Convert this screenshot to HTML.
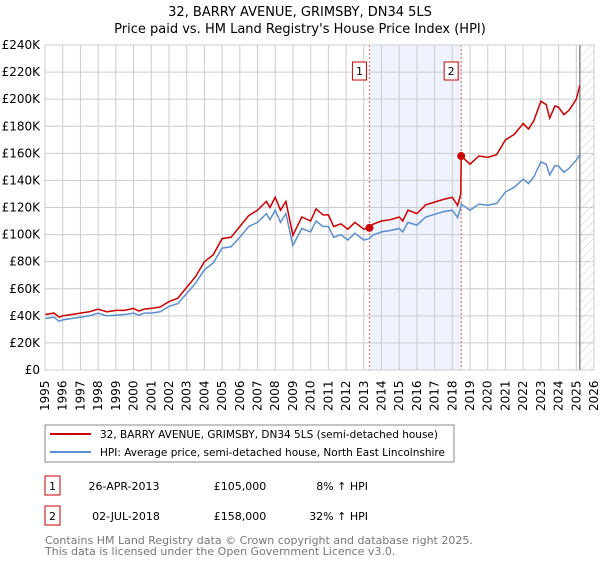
<!DOCTYPE html>
<html><head><meta charset="utf-8"><style>
body{margin:0;background:#fff;font-family:"DejaVu Sans","Liberation Sans",sans-serif;}
svg text{font-family:"DejaVu Sans","Liberation Sans",sans-serif;}
</style></head><body>
<svg id="c" width="600" height="560">
<defs><pattern id="hatch" patternUnits="userSpaceOnUse" width="6" height="6" patternTransform="rotate(45)"><line x1="0" y1="0" x2="0" y2="6" stroke="#ccc" stroke-width="1"/></pattern></defs>
<text x="300" y="16" text-anchor="middle" font-size="13">32, BARRY AVENUE, GRIMSBY, DN34 5LS</text>
<text x="300" y="33" text-anchor="middle" font-size="13">Price paid vs. HM Land Registry's House Price Index (HPI)</text>
<g id="plot"></g>
<g>
<rect x="45" y="425" width="409" height="37" fill="#fff" stroke="#888"/>
<line x1="50" y1="434" x2="91" y2="434" stroke="#cc0000" stroke-width="2"/>
<text x="100" y="438" font-size="10.5" textLength="338" lengthAdjust="spacingAndGlyphs">32, BARRY AVENUE, GRIMSBY, DN34 5LS (semi-detached house)</text>
<line x1="50" y1="452" x2="91" y2="452" stroke="#5b8fd0" stroke-width="2"/>
<text x="100" y="456" font-size="10.5" textLength="345" lengthAdjust="spacingAndGlyphs">HPI: Average price, semi-detached house, North East Lincolnshire</text>
</g>
<g>
<rect x="45" y="476" width="15" height="19" fill="#fff" stroke="#cc0000"/>
<text x="52.5" y="490" text-anchor="middle" font-size="11">1</text>
<text x="124" y="490" text-anchor="middle" font-size="11">26-APR-2013</text>
<text x="240" y="490" text-anchor="middle" font-size="11">£105,000</text>
<text x="368" y="490" text-anchor="end" font-size="11">8% ↑ HPI</text>
</g>
<g>
<rect x="45" y="506" width="15" height="19" fill="#fff" stroke="#cc0000"/>
<text x="52.5" y="520" text-anchor="middle" font-size="11">2</text>
<text x="126" y="520" text-anchor="middle" font-size="11">02-JUL-2018</text>
<text x="240" y="520" text-anchor="middle" font-size="11">£158,000</text>
<text x="368" y="520" text-anchor="end" font-size="11">32% ↑ HPI</text>
</g>
<text x="45" y="544" font-size="11" fill="#777">Contains HM Land Registry data © Crown copyright and database right 2025.</text>
<text x="45" y="555" font-size="11" fill="#777">This data is licensed under the Open Government Licence v3.0.</text>
</svg>
<script>
const dates=[1995.0,1995.5,1995.8,1996.0,1996.5,1997.0,1997.5,1998.0,1998.5,1999.0,1999.5,2000.0,2000.3,2000.6,2001.0,2001.5,2002.0,2002.5,2003.0,2003.5,2004.0,2004.5,2005.0,2005.5,2006.0,2006.5,2007.0,2007.5,2007.7,2008.0,2008.3,2008.6,2009.0,2009.5,2010.0,2010.3,2010.7,2011.0,2011.3,2011.7,2012.1,2012.5,2013.0,2013.32,2013.5,2014.0,2014.5,2015.0,2015.2,2015.5,2016.0,2016.5,2017.0,2017.5,2018.0,2018.3,2018.48,2018.5,2019.0,2019.5,2020.0,2020.5,2021.0,2021.5,2022.0,2022.3,2022.6,2023.0,2023.3,2023.5,2023.8,2024.0,2024.3,2024.6,2025.0,2025.2];
const hpi=[38,39,36,37,38,39,40,42,40,40.5,41,42,40.5,42,42,43,47,49,56.5,64,74,79,90,91,98,106,109,115.5,111,118,109,115.5,92,104.5,102,110,106,106,98,100,96,101,96,97,99.6,102,103,104.5,102,109,107,113,115,117,118,112.6,120,122.5,118,122.5,121.7,123,131.5,135,141,137.7,142.6,153.7,152,144,151,150.5,146,149,155,159];
const price=[41,42,39,40,41,42,43,45,43,44,44,45.5,43.5,45,45.5,46.5,50.5,53,61,69,80,85,97,98,106,114,118,124.5,120,127.5,118,124.5,99.5,113,110,119,114.5,114.5,106,108,104,109,104,105,107.5,110,111,113,110,118,115.5,122,124,126,127.5,121.5,130,158,152,158,157,159,170,174,182,178,184,198.5,196,186,195,194,188.5,192,200,210];
const yTicks=[0,20,40,60,80,100,120,140,160,180,200,220,240];
const years=[1995,1996,1997,1998,1999,2000,2001,2002,2003,2004,2005,2006,2007,2008,2009,2010,2011,2012,2013,2014,2015,2016,2017,2018,2019,2020,2021,2022,2023,2024,2025,2026];
const sales=[[2013.32,105,"1"],[2018.5,158,"2"]];
const L=45,R=594,T=45,B=370,NS="http://www.w3.org/2000/svg";
const X=d=>L+(d-1995)/31*(R-L), Y=v=>B-v/240*(B-T);
const g=document.getElementById('plot');
function el(t,a,p){const e=document.createElementNS(NS,t);for(const k in a)e.setAttribute(k,a[k]);(p||g).appendChild(e);return e;}
let e;
e=el('rect',{x:X(sales[0][0]),y:T,width:X(sales[1][0])-X(sales[0][0]),height:B-T,fill:'#eef3fd'});


e=el('rect',{x:X(2025.2),y:T,width:R-X(2025.2),height:B-T,fill:'url(#hatch)'});


years.forEach(y=>{e=el('line',{x1:X(y),x2:X(y),y1:T,y2:B,stroke:'#ccc'});


const t=el('text',{x:0,y:0,'font-size':12,transform:`translate(${X(y)+4},${B+41}) rotate(-90)`});t.textContent=y;

});
yTicks.forEach(v=>{e=el('line',{x1:L,x2:R,y1:Y(v),y2:Y(v),stroke:'#ccc'});


const t=el('text',{x:L-5,y:Y(v)+4,'text-anchor':'end','font-size':12});t.textContent=v===0?'£0':'£'+v+'K';

});
e=el('line',{x1:X(2025.2),x2:X(2025.2),y1:T,y2:B,stroke:'#888','stroke-width':1.5});


sales.forEach(s=>{e=el('line',{x1:X(s[0]),x2:X(s[0]),y1:T,y2:B,stroke:'#e06060','stroke-dasharray':'2,2'});


e=el('rect',{x:X(s[0])-17,y:62,width:14,height:18,fill:'#fff',stroke:'#cc0000'});


const t=el('text',{x:X(s[0])-10,y:75,'text-anchor':'middle','font-size':11});t.textContent=s[2];

});
const pts=a=>a.map((v,i)=>X(dates[i]).toFixed(1)+','+Y(v).toFixed(1)).join(' ');
e=el('polyline',{points:pts(hpi),fill:'none',stroke:'#5b8fd0','stroke-width':1.5});


e=el('polyline',{points:pts(price),fill:'none',stroke:'#cc0000','stroke-width':1.5});


sales.forEach(s=>{e=el('circle',{cx:X(s[0]),cy:Y(s[1]),r:4,fill:'#cc0000'});

});
e=el('rect',{x:L,y:T,width:R-L,height:B-T,fill:'none',stroke:'#ccc'});


</script>
</body></html>
